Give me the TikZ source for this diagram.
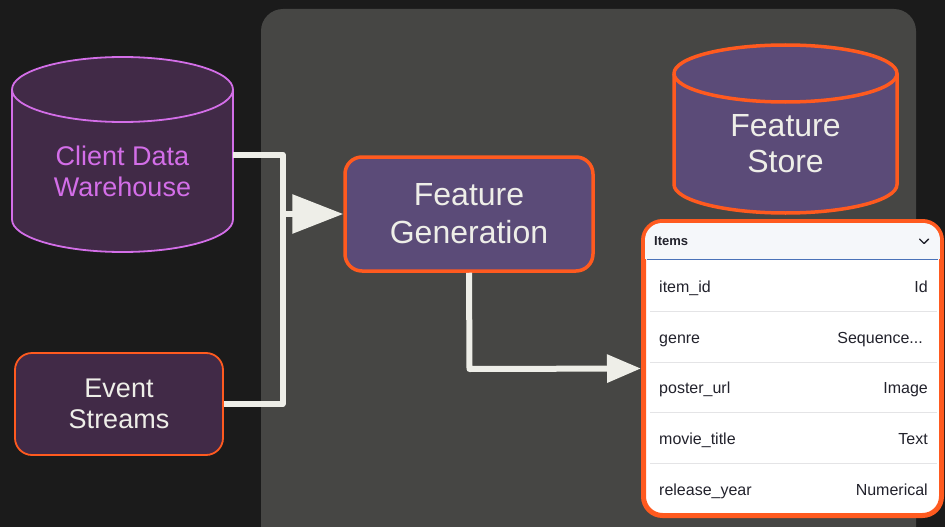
\documentclass[tikz,border=0pt]{standalone}
\usepackage{fontspec}
\setmainfont{Liberation Sans}
\usetikzlibrary{arrows.meta}
\definecolor{bgc}{HTML}{1B1B1B}
\definecolor{panelc}{HTML}{464644}
\definecolor{darkpurple}{HTML}{412A47}
\definecolor{midpurple}{HTML}{5B4B78}
\definecolor{violetc}{HTML}{D36EE8}
\definecolor{orangec}{HTML}{FF5A1F}
\definecolor{lightc}{HTML}{EEEEE8}
\definecolor{tabtext}{HTML}{22222C}
\definecolor{sepc}{HTML}{E4E4E6}
\definecolor{headbg}{HTML}{F5F7FA}
\definecolor{headline}{HTML}{4A72B8}
\tikzset{
  conn/.style={draw=lightc, line width=6pt},
  bigtext/.style={text=lightc, font=\fontsize{32}{38}\selectfont, align=center},
  medtext/.style={font=\fontsize{27}{31}\selectfont, align=center},
  anchorbox/.style={draw=none, inner sep=0pt, outer sep=0pt},
  rowleft/.style={anchor=base west, inner sep=0pt, text=tabtext, font=\fontsize{16}{18}\selectfont},
  rowright/.style={anchor=base east, inner sep=0pt, text=tabtext, font=\fontsize{16}{18}\selectfont},
}
\begin{document}
\begin{tikzpicture}[x=1pt,y=-1pt]
\useasboundingbox (0,0) rectangle (945,527);
\fill[bgc] (0,0) rectangle (945,527);
% panel
\fill[panelc, rounded corners=22pt] (261,9) rectangle (916,560);

% Client Data Warehouse cylinder
\path[fill=darkpurple, draw=violetc, line width=1.8pt]
  (12,89.5) -- (12,219.5) arc[start angle=180,end angle=360,x radius=110.5pt,y radius=32.5pt]
  -- (233,89.5) arc[start angle=0,end angle=180,x radius=110.5pt,y radius=32.5pt] -- cycle;
\draw[violetc, line width=1.8pt] (12,89.5) arc[start angle=180,end angle=360,x radius=110.5pt,y radius=32.5pt];
\node[anchorbox, minimum width=221pt, minimum height=130pt] (cdw) at (122.5,154.5) {};
\node[medtext, text=violetc] (cdwlabel) at (122.5,171.5) {Client Data\\Warehouse};

% Feature Store cylinder
\path[fill=midpurple, draw=orangec, line width=3.5pt]
  (674,73.5) -- (674,184.5) arc[start angle=180,end angle=360,x radius=111.5pt,y radius=28.5pt]
  -- (897,73.5) arc[start angle=0,end angle=180,x radius=111.5pt,y radius=28.5pt] -- cycle;
\draw[orangec, line width=3.5pt] (674,73.5) arc[start angle=180,end angle=360,x radius=111.5pt,y radius=28.5pt];
\node[bigtext, font=\fontsize{32}{36}\selectfont] (fs) at (785.5,144) {Feature\\Store};

% Event Streams
\node[medtext, text=lightc, fill=darkpurple, draw=orangec, line width=1.8pt, rounded corners=17pt,
  minimum width=208pt, minimum height=102pt, inner sep=0pt] (es) at (119,404) {Event\\Streams};

% Feature Generation
\node[bigtext, fill=midpurple, draw=orangec, line width=3.5pt, rounded corners=17pt,
  minimum width=248pt, minimum height=114pt, inner sep=0pt] (fg) at (469,214) {Feature\\Generation};

% Items card
\node[fill=white, draw=orangec, line width=5pt, rounded corners=19pt,
  minimum width=298pt, minimum height=294pt, inner sep=0pt] (card) at (792.5,368.5) {};
\begin{scope}
\clip[rounded corners=17pt] (645,223) rectangle (940,515);
\fill[headbg] (645,223) rectangle (940,259);
\end{scope}
\draw[headline, line width=1.2pt] (647,259.5) -- (938,259.5);
\node[anchor=west, inner sep=0pt, text=tabtext, font=\bfseries\fontsize{13}{15}\selectfont] (itemsh) at (654,241.5) {Items};
\draw[tabtext, line width=1.4pt, line cap=round, line join=round] (919.5,239) -- (924,243.5) -- (928.5,239);
\foreach \yy in {311,362,412,463} { \draw[sepc, line width=1pt] (650,\yy) -- (937,\yy); }
\node[rowleft] (r1l) at (659,292) {item\_id};
\node[rowright] (r1r) at (928,292) {Id};
\node[rowleft] (r2l) at (659,343) {genre};
\node[rowright] (r2r) at (923,343) {Sequence...};
\node[rowleft] (r3l) at (659,393.5) {poster\_url};
\node[rowright] (r3r) at (928,393.5) {Image};
\node[rowleft] (r4l) at (659,444) {movie\_title};
\node[rowright] (r4r) at (928,444) {Text};
\node[rowleft] (r5l) at (659,495) {release\_year};
\node[rowright] (r5r) at (928,495) {Numerical};

% connectors
\coordinate (j1) at (282.5,154.5);
\coordinate (j2) at (282.5,404);
\coordinate (jm) at (282.5,214);
\coordinate (jb) at (469.5,369);
\draw[conn, line join=round] (cdw.east) -- (j1) -- (j2) -- (es.east);
\draw[conn, -{Triangle[length=51pt,width=38pt]}] (jm) -- (fg.west);
\draw[conn, line join=round, -{Triangle[length=34pt,width=27pt]}] (fg.south) -- (jb) -- (card.west);
\end{tikzpicture}
\end{document}
